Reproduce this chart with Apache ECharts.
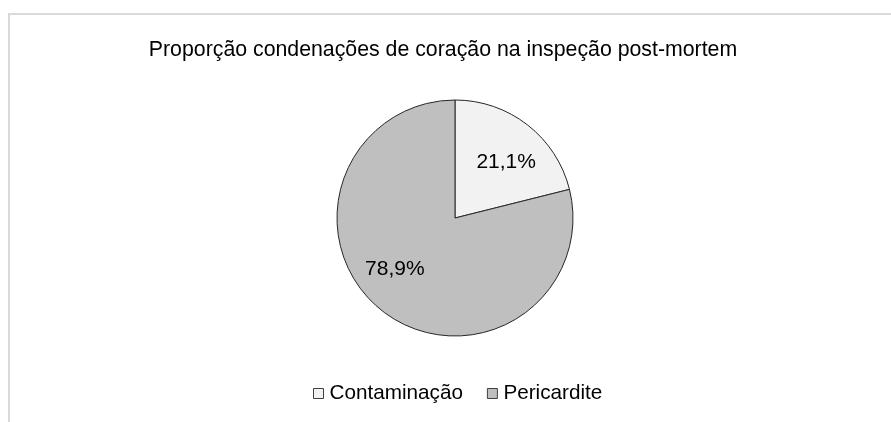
<!DOCTYPE html>
<html>
<head>
<meta charset="utf-8">
<script src="https://cdn.jsdelivr.net/npm/echarts@6/dist/echarts.min.js"></script>
<style>
html,body{margin:0;padding:0;background:#fff;}
#frame{position:absolute;left:8px;top:13px;width:900px;height:420px;border-left:2px solid #d9d9d9;border-top:2px solid #d9d9d9;box-sizing:border-box;}
#chart{position:absolute;left:0;top:0;width:891px;height:422px;}
</style>
</head>
<body>
<div id="frame"></div>
<div id="chart"></div>
<script>
const titleText = 'Proporção condenações de coração na inspeção post-mortem';
const categories = ['Contaminação', 'Pericardite'];
const values = [21.1, 78.9];
const colors = ['#f2f2f2', '#bfbfbf'];
const labelOffsets = [[13, -7], [-22, 2]];

const FONT = 'Liberation Sans, Arial, sans-serif';
const chart = echarts.init(document.getElementById('chart'));
chart.setOption({
  animation: false,
  title: {
    text: titleText, left: 438, top: 35, textAlign: 'center',
    textStyle: {fontFamily: FONT, fontSize: 21.3, fontWeight: 'normal', color: '#000'}
  },
  legend: {
    data: categories, top: 383, left: 313, padding: 0, icon: 'rect',
    itemWidth: 10, itemHeight: 10, itemGap: 24,
    textStyle: {fontFamily: FONT, fontSize: 20.7, color: '#000', padding: [0,0,0,1]},
    itemStyle: {borderColor: '#404040', borderWidth: 1}
  },
  series: [{
    type: 'pie', center: [455, 218], radius: 118, startAngle: 90, clockwise: true,
    silent: true,
    itemStyle: {borderColor: '#262626', borderWidth: 1},
    label: {
      show: true, position: 'inside', fontFamily: FONT, fontSize: 21, color: '#000',
      formatter: p => p.value.toFixed(1).replace('.', ',') + '%'
    },
    labelLine: {show: false},
    data: categories.map((c, i) => ({
      name: c, value: values[i], itemStyle: {color: colors[i]},
      label: {offset: labelOffsets[i]}
    }))
  }]
});
</script>
</body>
</html>
